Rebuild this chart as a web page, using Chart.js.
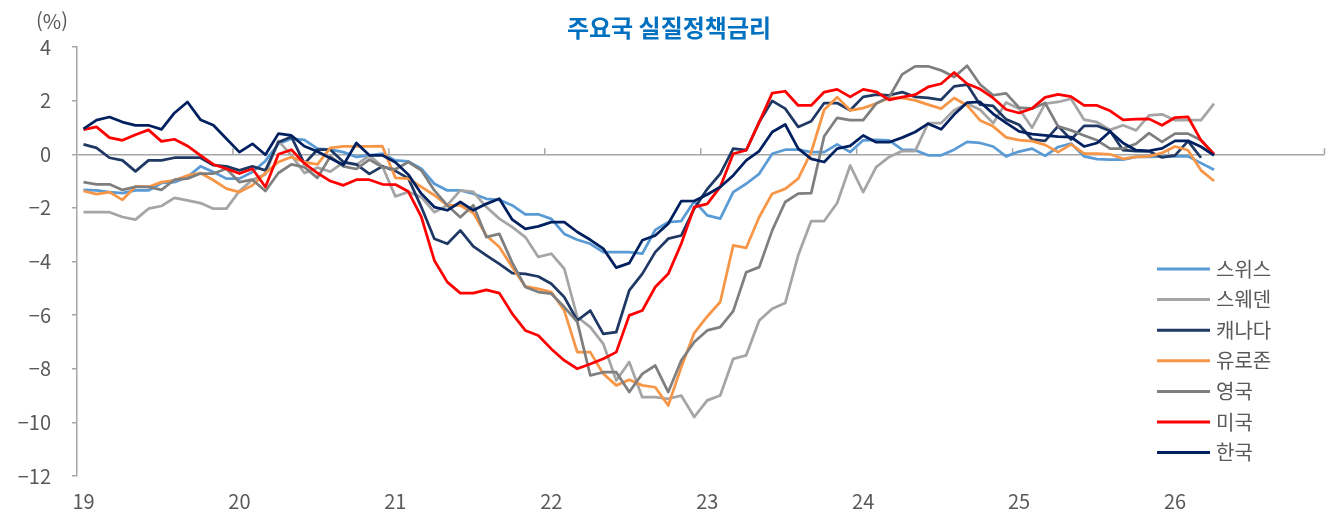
<!DOCTYPE html>
<html lang="ko">
<head>
<meta charset="utf-8">
<title>주요국 실질정책금리</title>
<script src="https://cdn.jsdelivr.net/npm/chart.js@4.4.1/dist/chart.umd.min.js"></script>
<style>
  html, body { margin: 0; padding: 0; background: #fff; }
  #wrap { width: 1331px; height: 511px; }
</style>
</head>
<body>
<div id="wrap"><canvas id="chart" width="1331" height="511"></canvas></div>
<script>
const FONT = '"Noto Sans CJK KR", "Noto Sans", sans-serif';
const chartTitle = '주요국 실질정책금리';
const unitLabel = '(%)';

// x axis: monthly, Jan 2019 .. Dec 2026, labelled by year
const yearLabels = ['19', '20', '21', '22', '23', '24', '25', '26'];
const months = [];
yearLabels.forEach(y => {
  for (let m = 1; m <= 12; m++) months.push(y + '.' + String(m).padStart(2, '0'));
});

// real policy rates, %, Jan 2019 ..
const swiss = [
  -1.33, -1.35, -1.41, -1.45, -1.35, -1.35, -1.07, -1.04, -0.85, -0.45, -0.66, -0.91,
  -0.91, -0.66, -0.25, 0.39, 0.58, 0.54, 0.21, 0.17, 0.08, -0.10, -0.04, 0.02,
  -0.23, -0.27, -0.54, -1.10, -1.35, -1.35, -1.47, -1.66, -1.70, -1.91, -2.24, -2.24,
  -2.41, -2.97, -3.19, -3.34, -3.65, -3.65, -3.65, -3.71, -2.82, -2.53, -2.49, -1.75,
  -2.28, -2.40, -1.41, -1.10, -0.73, 0.02, 0.17, 0.17, 0.08, 0.08, 0.37, 0.08,
  0.52, 0.54, 0.52, 0.17, 0.15, -0.04, -0.04, 0.17, 0.46, 0.42, 0.29, -0.08,
  0.10, 0.21, -0.06, 0.27, 0.40, -0.08, -0.18, -0.20, -0.20, -0.10, -0.10, -0.08,
  -0.08, -0.08, -0.33, -0.58
];
const sweden = [
  -2.16, -2.16, -2.16, -2.34, -2.44, -2.03, -1.93, -1.63, -1.72, -1.82, -2.03, -2.03,
  -1.37, -0.95, -0.75, 0.50, -0.04, -0.70, -0.50, -0.65, -0.30, -0.40, -0.05, -0.45,
  -1.57, -1.41, -1.60, -2.16, -1.90, -1.35, -1.40, -1.97, -2.40, -2.72, -3.09, -3.83,
  -3.71, -4.27, -6.07, -6.45, -7.07, -8.44, -7.75, -9.06, -9.06, -9.12, -9.00, -9.80,
  -9.18, -9.00, -7.63, -7.50, -6.20, -5.76, -5.55, -3.77, -2.49, -2.49, -1.82, -0.42,
  -1.41, -0.48, -0.10, 0.12, 0.12, 1.16, 1.16, 1.64, 1.89, 1.66, 1.16, 1.93,
  1.70, 0.99, 1.89, 1.95, 2.07, 1.29, 1.20, 0.91, 1.08, 0.89, 1.45, 1.49,
  1.27, 1.27, 1.27, 1.89
];
const canada = [
  0.37, 0.24, -0.13, -0.23, -0.64, -0.23, -0.23, -0.13, -0.13, -0.13, -0.41, -0.45,
  -0.60, -0.45, -0.60, 0.45, 0.65, -0.35, 0.17, 0.17, -0.29, -0.38, -0.73, -0.45,
  -0.62, -0.90, -1.97, -3.15, -3.34, -2.84, -3.44, -3.77, -4.09, -4.43, -4.46, -4.56,
  -4.83, -5.33, -6.20, -5.83, -6.70, -6.63, -5.08, -4.46, -3.65, -3.15, -3.03, -2.03,
  -1.30, -0.73, 0.21, 0.15, 1.20, 1.99, 1.70, 1.02, 1.23, 1.91, 1.91, 1.64,
  2.14, 2.22, 2.20, 2.32, 2.14, 2.10, 2.03, 2.53, 2.60, 1.85, 1.80, 1.30,
  1.10, 0.55, 0.50, 1.05, 0.55, 1.06, 1.06, 0.87, 0.15, 0.12, 0.11, -0.12,
  -0.04, 0.49, -0.13, null
];
const eurozone = [
  -1.37, -1.49, -1.41, -1.70, -1.20, -1.22, -1.04, -0.97, -0.79, -0.70, -0.97, -1.28,
  -1.41, -1.16, -0.70, -0.29, -0.10, -0.29, -0.38, 0.24, 0.29, 0.29, 0.29, 0.30,
  -0.88, -0.91, -1.22, -1.53, -1.91, -1.91, -2.19, -3.03, -3.46, -4.21, -4.93, -5.02,
  -5.14, -5.83, -7.38, -7.38, -8.19, -8.62, -8.41, -8.62, -8.69, -9.37, -7.94, -6.67,
  -6.05, -5.51, -3.40, -3.49, -2.34, -1.47, -1.29, -0.91, 0.08, 1.66, 2.13, 1.64,
  1.72, 1.89, 2.10, 2.10, 2.01, 1.85, 1.70, 2.10, 1.82, 1.26, 1.04, 0.63,
  0.53, 0.49, 0.35, 0.08, 0.37, 0.02, 0.02, 0.00, -0.17, -0.10, -0.08, 0.05,
  0.29, 0.15, -0.60, -1.00
];
const uk = [
  -1.04, -1.12, -1.12, -1.33, -1.22, -1.22, -1.33, -0.95, -0.91, -0.72, -0.72, -0.54,
  -1.04, -0.95, -1.37, -0.70, -0.38, -0.48, -0.88, -0.08, -0.45, -0.55, -0.20, -0.48,
  -0.56, -0.29, -0.60, -1.35, -1.91, -2.35, -1.90, -3.09, -2.97, -4.05, -4.95, -5.14,
  -5.20, -5.70, -6.25, -8.25, -8.13, -8.13, -8.87, -8.19, -7.88, -8.87, -7.69, -7.00,
  -6.57, -6.45, -5.85, -4.40, -4.21, -2.84, -1.78, -1.47, -1.45, 0.67, 1.36, 1.27,
  1.27, 1.89, 2.13, 2.98, 3.28, 3.28, 3.13, 2.88, 3.30, 2.60, 2.20, 2.27,
  1.74, 1.70, 1.91, 1.04, 0.89, 0.70, 0.52, 0.21, 0.21, 0.39, 0.79, 0.46,
  0.77, 0.77, 0.52, 0.00
];
const us = [
  0.92, 1.02, 0.62, 0.52, 0.73, 0.91, 0.48, 0.56, 0.31, -0.04, -0.38, -0.54,
  -0.72, -0.54, -1.22, 0.00, 0.17, -0.34, -0.70, -1.00, -1.16, -0.95, -0.95, -1.12,
  -1.13, -1.39, -2.34, -3.96, -4.77, -5.18, -5.18, -5.06, -5.18, -5.95, -6.57, -6.76,
  -7.26, -7.69, -8.00, -7.82, -7.63, -7.38, -6.01, -5.83, -4.95, -4.46, -3.34, -1.97,
  -1.85, -1.22, 0.02, 0.15, 1.20, 2.28, 2.35, 1.82, 1.82, 2.32, 2.42, 2.14,
  2.42, 2.33, 2.03, 2.13, 2.22, 2.51, 2.63, 3.05, 2.63, 2.43, 2.10, 1.67,
  1.54, 1.71, 2.12, 2.23, 2.15, 1.82, 1.82, 1.62, 1.28, 1.31, 1.32, 1.08,
  1.37, 1.39, 0.52, 0.00
];
const korea = [
  0.95, 1.27, 1.39, 1.20, 1.08, 1.08, 0.93, 1.54, 1.95, 1.29, 1.08, 0.58,
  0.08, 0.39, -0.02, 0.77, 0.70, 0.30, 0.10, -0.15, -0.40, 0.42, -0.04, -0.04,
  -0.30, -0.76, -1.47, -1.97, -2.09, -1.78, -2.09, -1.85, -1.66, -2.44, -2.78, -2.69,
  -2.53, -2.53, -2.90, -3.19, -3.52, -4.23, -4.06, -3.21, -3.03, -2.59, -1.75, -1.74,
  -1.50, -1.22, -0.79, -0.23, 0.12, 0.83, 1.11, 0.21, -0.17, -0.29, 0.21, 0.31,
  0.70, 0.45, 0.45, 0.62, 0.83, 1.14, 0.93, 1.48, 1.93, 1.95, 1.51, 1.17,
  0.85, 0.75, 0.70, 0.66, 0.64, 0.29, 0.42, 0.85, 0.42, 0.15, 0.13, 0.22,
  0.50, 0.50, 0.28, -0.04
];

const seriesNames = ['스위스', '스웨덴', '캐나다', '유로존', '영국', '미국', '한국'];
const seriesData = [swiss, sweden, canada, eurozone, uk, us, korea];
const seriesColors = ['#5b9bd5', '#a5a5a5', '#1f3864', '#f79646', '#7f7f7f', '#ff0000', '#002060'];

const fmt = v => (v < 0 ? '\u2212' + Math.abs(v) : String(v));

// year tick marks on the zero line
const yearMarks = {
  id: 'yearMarks',
  beforeDatasetsDraw(chart) {
    const { ctx, chartArea, scales: { x, y } } = chart;
    const y0 = y.getPixelForValue(0);
    ctx.save();
    ctx.strokeStyle = '#a6a6a6';
    ctx.lineWidth = 1.5;
    ctx.beginPath();
    for (let k = 12; k <= months.length; k += 12) {
      const px = k < months.length
        ? (x.getPixelForValue(k - 1) + x.getPixelForValue(k)) / 2
        : chartArea.right;
      ctx.moveTo(px, y0);
      ctx.lineTo(px, y0 - 6);
    }
    ctx.stroke();
    ctx.restore();
  }
};

// title, unit and legend
const decor = {
  id: 'decor',
  afterDraw(chart) {
    const { ctx } = chart;
    ctx.save();
    ctx.textBaseline = 'middle';
    ctx.textAlign = 'center';
    ctx.fillStyle = '#0070c0';
    ctx.font = 'bold 24px ' + FONT;
    ctx.fillText(chartTitle, 669, 28);

    ctx.fillStyle = '#595959';
    ctx.font = '20px ' + FONT;
    ctx.fillText(unitLabel, 52, 21);

    ctx.textAlign = 'left';
    chart.data.datasets.forEach((ds, i) => {
      const ly = 269 + i * 30.6;
      ctx.strokeStyle = ds.borderColor;
      ctx.lineWidth = 3;
      ctx.beginPath();
      ctx.moveTo(1157, ly);
      ctx.lineTo(1210, ly);
      ctx.stroke();
      ctx.fillStyle = '#595959';
      ctx.fillText(ds.label, 1216, ly);
    });
    ctx.restore();
  }
};

new Chart(document.getElementById('chart'), {
  type: 'line',
  data: {
    labels: months,
    datasets: seriesNames.map((name, i) => ({
      label: name,
      data: seriesData[i],
      borderColor: seriesColors[i],
      backgroundColor: seriesColors[i],
      borderWidth: 2.75,
      pointRadius: 0,
      tension: 0,
      borderJoinStyle: 'round',
      order: seriesNames.length - i
    }))
  },
  options: {
    responsive: false,
    animation: false,
    layout: { padding: { top: 47, right: 4, bottom: 0, left: 0 } },
    plugins: {
      legend: { display: false },
      title: { display: false },
      tooltip: { enabled: false }
    },
    scales: {
      x: {
        offset: true,
        grid: { display: false, drawTicks: false },
        border: { display: false },
        afterFit: s => { s.height = 35; },
        ticks: {
          autoSkip: false,
          maxRotation: 0,
          minRotation: 0,
          padding: 13,
          color: '#595959',
          font: { family: FONT, size: 20 },
          callback: (val, idx) => (idx % 12 === 0 ? yearLabels[idx / 12] : '')
        }
      },
      y: {
        min: -12,
        max: 4,
        afterFit: s => { s.width = 77; },
        grid: {
          drawOnChartArea: true,
          color: ctx => (ctx.tick && ctx.tick.value === 0 ? '#a6a6a6' : 'rgba(0,0,0,0)'),
          tickColor: '#a6a6a6',
          tickLength: 5,
          lineWidth: 1.5
        },
        border: { display: true, color: '#a6a6a6', width: 1.5 },
        ticks: {
          stepSize: 2,
          padding: 21,
          color: '#595959',
          font: { family: FONT, size: 20 },
          callback: v => fmt(v)
        }
      }
    }
  },
  plugins: [yearMarks, decor]
});
</script>
</body>
</html>
